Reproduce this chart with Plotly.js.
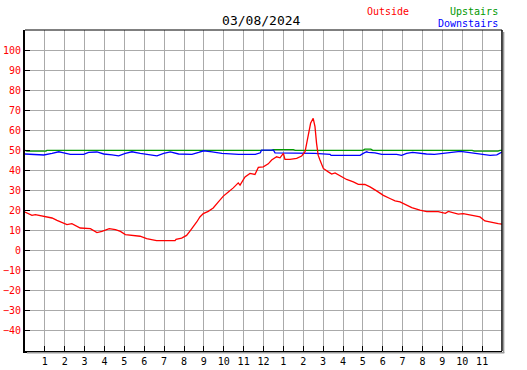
<!DOCTYPE html>
<html>
<head>
<meta charset="utf-8">
<script src="https://cdn.plot.ly/plotly-3.0.1.min.js"></script>
<style>html,body{margin:0;padding:0;background:#fff;}#chart{width:527px;height:370px;}</style>
</head>
<body>
<div id="chart"></div>
<script>
const chartTitle = "03/08/2024";
const seriesNames = ["Outside", "Upstairs", "Downstairs"];
const hourTickVals = [1,2,3,4,5,6,7,8,9,10,11,12,13,14,15,16,17,18,19,20,21,22,23];
const hourTickText = ["1","2","3","4","5","6","7","8","9","10","11","12","1","2","3","4","5","6","7","8","9","10","11"];
const tempTickVals = [-40,-30,-20,-10,0,10,20,30,40,50,60,70,80,90,100];

const outsideHours = [0,0.35,0.52,0.94,1.36,1.61,1.86,2.11,2.36,2.53,2.78,3.29,3.62,3.87,4.24,4.55,4.8,5.05,5.64,5.79,6.12,6.62,7.55,7.6,7.88,8.13,8.3,8.47,8.64,8.8,8.97,9.22,9.47,9.73,9.98,10.23,10.48,10.73,10.82,11.07,11.32,11.57,11.74,11.99,12.24,12.41,12.66,12.83,13.0,13.08,13.33,13.67,13.92,14.09,14.17,14.25,14.37,14.5,14.59,14.67,14.75,14.84,15.01,15.26,15.43,15.6,15.85,16.18,16.52,16.77,17.1,17.36,17.69,18.03,18.36,18.62,18.87,19.12,19.46,19.87,20.21,20.79,21.05,21.15,21.3,21.8,22.05,22.47,22.89,23.14,23.48,23.81,24.0];
const outsideTemps = [19.3,17.6,18,17.1,16.3,15.1,14,13,13.5,12.6,11.3,11,9,9.6,11,10.5,9.6,8,7.2,7.2,6,5,5,5.6,6.3,7.6,9.8,11.8,14.3,16.8,18.5,19.6,21.3,24.3,27.2,29.3,31.3,33.8,32.7,36.8,38.5,38,41.5,41.8,43.3,45.2,46.8,46.3,48.5,45.5,45.5,46,47.2,49.3,53.5,58.5,63.5,66,61.8,53.5,47.6,45.2,41,39.3,38.2,38.8,37.2,35.5,34.3,33.1,33,31.8,29.8,27.6,26,24.8,24.3,23,21.5,20.2,19.5,19.5,18.8,18.6,19.6,18.2,18.5,17.6,16.8,14.8,14,13.5,13.2];

const upstairsHours = [0,0.1,1.05,1.1,2.6,2.7,12.4,12.5,13.5,13.6,17.0,17.1,17.4,17.5,22.5,22.6,23.8,23.9,24];
const upstairsTemps = [50,49.6,49.6,50,50,50,50,50.4,50.4,50,50,50.6,50.6,50,50,49.6,49.6,50,50];

const downstairsHours = [0,0.3,0.94,1.36,1.7,1.95,2.28,2.95,3.2,3.62,3.96,4.38,4.71,5.05,5.38,5.8,6.14,6.64,6.98,7.31,7.73,8.4,8.74,8.99,9.41,9.91,10.75,11.59,11.84,11.9,12.5,12.58,14.59,15.35,15.4,16.86,17.02,17.19,17.27,17.61,17.95,18.7,18.95,19.2,19.5,19.8,20.2,20.6,21.0,21.4,21.9,22.1,22.47,22.98,23.4,23.74,23.9,24];
const downstairsTemps = [48.2,48,47.7,48.5,49.3,48.8,48,48,49,49.2,48.2,47.8,47.3,48.5,49.3,48.5,48,47.3,48.5,49.2,48.2,48,49,49.8,49.3,48.5,48,48,48.8,50.1,50.1,48.8,48.5,48,47.5,47.5,48.5,49.3,49,48.8,48,48,47.5,48.5,49,48.5,48.2,48,48.5,49.2,49.5,49.2,48.8,48.2,47.5,47.8,48.5,49.2];

const colors = ["#ff0000", "#009900", "#0000ff"];
const mono = "DejaVu Sans Mono, Liberation Mono, monospace";

const traces = [
  {x: upstairsHours, y: upstairsTemps, name: seriesNames[1], mode: "lines", line: {color: colors[1], width: 1.3}},
  {x: downstairsHours, y: downstairsTemps, name: seriesNames[2], mode: "lines", line: {color: colors[2], width: 1.3}},
  {x: outsideHours, y: outsideTemps, name: seriesNames[0], mode: "lines", line: {color: colors[0], width: 1.3}}
];

const W = 527, H = 370, L = 25, R = 25, T = 30, B = 19;
const pw = W - L - R, ph = H - T - B;

const layout = {
  width: W, height: H,
  margin: {l: L, r: R, t: T, b: B, pad: 0},
  paper_bgcolor: "#ffffff", plot_bgcolor: "#ffffff",
  showlegend: false,
  title: {text: chartTitle, x: 261 / W, xref: "paper", y: 1 - 20 / H, yref: "container", xanchor: "center", yanchor: "middle",
          font: {family: mono, size: 13, color: "#000000"}},
  xaxis: {range: [0, 24], tickvals: hourTickVals, ticktext: hourTickText, ticks: "inside", ticklen: 5, tickcolor: "#000",
          tickwidth: 1, showgrid: true, gridcolor: "#aaaaaa", gridwidth: 1, showline: true, linecolor: "#000", linewidth: 2,
          zeroline: false, tickfont: {family: mono, size: 10, color: "#000"}, fixedrange: true},
  yaxis: {range: [-50, 110], tickvals: tempTickVals, ticks: "inside", ticklen: 5, tickcolor: "#000", tickwidth: 1,
          showgrid: true, gridcolor: "#aaaaaa", gridwidth: 1, showline: true, linecolor: "#000", linewidth: 2,
          zeroline: false, tickfont: {family: mono, size: 10, color: "#ff0000"}, fixedrange: true},
  shapes: [
    {type: "line", xref: "paper", yref: "paper", x0: 0, x1: 1, y0: 1, y1: 1, line: {color: "#000", width: 1}},
    {type: "line", xref: "paper", yref: "paper", x0: 1, x1: 1, y0: 0, y1: 1, line: {color: "#000", width: 1.5}},
    {type: "line", xref: "paper", yref: "paper", x0: 1 + 1.6 / pw, x1: 1 + 1.6 / pw, y0: -2 / ph, y1: 1 - 2 / ph, line: {color: "#999999", width: 1.5}},
    {type: "line", xref: "paper", yref: "paper", x0: 2 / pw, x1: 1 + 2.3 / pw, y0: -1.8 / ph, y1: -1.8 / ph, line: {color: "#999999", width: 1.5}}
  ],
  annotations: [
    {text: seriesNames[0], xref: "paper", yref: "paper", x: (411 - L) / pw, y: 1 + (T - 11) / ph, xanchor: "right", yanchor: "middle", showarrow: false, font: {family: mono, size: 10, color: colors[0]}},
    {text: seriesNames[1], xref: "paper", yref: "paper", x: (500 - L) / pw, y: 1 + (T - 11) / ph, xanchor: "right", yanchor: "middle", showarrow: false, font: {family: mono, size: 10, color: colors[1]}},
    {text: seriesNames[2], xref: "paper", yref: "paper", x: (500 - L) / pw, y: 1 + (T - 23) / ph, xanchor: "right", yanchor: "middle", showarrow: false, font: {family: mono, size: 10, color: colors[2]}}
  ]
};

Plotly.newPlot("chart", traces, layout, {displayModeBar: false, staticPlot: true});
</script>
</body>
</html>
